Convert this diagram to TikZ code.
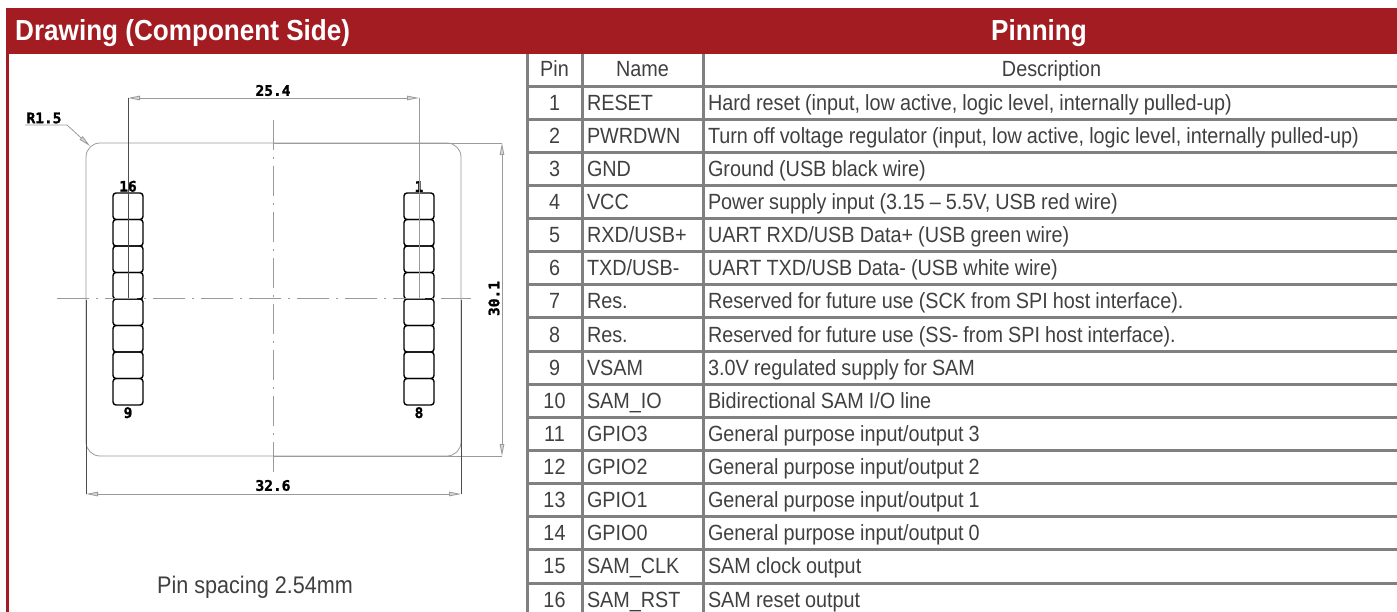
\documentclass[tikz,border=0pt]{standalone}
\usepackage{fontspec}
\setmainfont[FakeStretch=0.90]{Liberation Sans}
\newfontfamily\cadfont[BoldFeatures={FakeBold=1.6}]{DejaVu Sans Mono}
\usepackage{tikz}
\usetikzlibrary{arrows.meta,positioning}
\definecolor{bandred}{HTML}{A31C22}
\definecolor{gridgray}{HTML}{808080}
\definecolor{textgray}{HTML}{404040}
\definecolor{cadgray}{HTML}{9A9A9A}
\tikzset{
    tablecell/.style={rectangle, draw=gridgray, line width=3pt, outer sep=0pt, inner xsep=5pt, inner ysep=0pt,
        minimum height=33.13pt, text height=18pt, text depth=3pt, text=textgray, font=\fontsize{22}{24}\selectfont,
        execute at begin node={\spaceskip=5.1pt\relax}},
    numcell/.style={tablecell, text width=45pt, align=center},
    namecell/.style={tablecell, text width=111pt, align=left},
    desccell/.style={tablecell, text width=687pt, align=left},
    headcell/.style={align=center},
    padbox/.style={rectangle, draw=black, line width=1.4pt, rounded corners=3pt, outer sep=0pt, minimum width=30pt, minimum height=26.5pt},
    cadlabel/.style={font=\cadfont\bfseries\fontsize{14.5}{16}\selectfont, text=black, inner sep=0pt},
    bandtitle/.style={font=\bfseries\fontsize{29}{32}\selectfont, text=white, inner sep=0pt},
    dimline/.style={cadgray, line width=0.8pt, {Triangle[open, fill=cadgray!40, length=12pt, width=4.5pt]}-{Triangle[open, fill=cadgray!40, length=12pt, width=4.5pt]}},
    extline/.style={cadgray, line width=0.8pt},
    centerline/.style={cadgray, line width=0.8pt}
}

\begin{document}
\begin{tikzpicture}[x=1pt, y=-1pt]
    \useasboundingbox (0,0) rectangle (1397,612);

    %Table
    \node (num0)  [numcell]                   at (554.5,69.5) {Pin};
    \node (name0) [namecell, headcell, right=0pt of num0]  {Name};
    \node (desc0) [desccell, headcell, right=0pt of name0] {Description};
    \foreach \n/\pname/\pdesc [remember=\n as \prev (initially 0)] in {
        1/RESET/{Hard reset (input, low active, logic level, internally pulled-up)},
        2/PWRDWN/{Turn off voltage regulator (input, low active, logic level, internally pulled-up)},
        3/GND/{Ground (USB black wire)},
        4/VCC/{Power supply input (3.15 – 5.5V, USB red wire)},
        5/{RXD/USB+}/{UART RXD/USB Data+ (USB green wire)},
        6/{TXD/USB-}/{UART TXD/USB Data- (USB white wire)},
        7/Res./{Reserved for future use (SCK from SPI host interface).},
        8/Res./{Reserved for future use (SS- from SPI host interface).},
        9/VSAM/{3.0V regulated supply for SAM},
        10/SAM\_IO/{Bidirectional SAM I/O line},
        11/GPIO3/{General purpose input/output 3},
        12/GPIO2/{General purpose input/output 2},
        13/GPIO1/{General purpose input/output 1},
        14/GPIO0/{General purpose input/output 0},
        15/SAM\_CLK/{SAM clock output},
        16/SAM\_RST/{SAM reset output}} {
        \node (num\n)  [numcell, below=0pt of num\prev] {\n};
        \node (name\n) [namecell, right=0pt of num\n]   {\pname};
        \node (desc\n) [desccell, right=0pt of name\n]  {\pdesc};
    }

    %Header band
    \fill[bandred] (6,8) rectangle (1397,54);
    \fill[bandred] (6,8) rectangle (9,612);
    \node (drawingtitle) [bandtitle, anchor=west] at (15,33.5)  {Drawing (Component Side)};
    \node (pinningtitle) [bandtitle]              at (1039,33.5) {Pinning};

    %Board
    \node (board) [rectangle, draw=cadgray, line width=0.8pt, rounded corners=14pt, outer sep=0pt, minimum width=375pt, minimum height=313pt] at (273.5,299.5) {};

    %Pads
    \node (pad16) [padbox] at (128,206.25) {};
    \node (pad1)  [padbox] at (419,206.25) {};
    \foreach \n [remember=\n as \prev (initially 1)] in {2,...,8} {
        \node (pad\n) [padbox, below=0pt of pad\prev] {};
    }
    \foreach \n [remember=\n as \prev (initially 16)] in {15,14,...,9} {
        \node (pad\n) [padbox, below=0pt of pad\prev] {};
    }

    % Text labels (outside nodes)
    \node (lab16) [cadlabel, above=1pt of pad16] {16};
    \node (lab1)  [cadlabel, above=1pt of pad1]  {1};
    \node (lab9)  [cadlabel, below=2pt of pad9]  {9};
    \node (lab8)  [cadlabel, below=2pt of pad8]  {8};
    \node (labwidth)  [cadlabel] at (273,90.5)  {25.4};
    \node (labouter)  [cadlabel] at (273,485.5) {32.6};
    \node (labheight) [cadlabel, rotate=90] at (494,298.5) {30.1};
    \node (labradius) [cadlabel] at (44,118) {R1.5};
    \node (spacing) [text=textgray, font=\fontsize{24}{28}\selectfont, inner sep=0pt] at (255,587) {Pin spacing 2.54mm};

    \coordinate (dimleft)   at (128,98);
    \coordinate (dimright)  at (419,98);
    \coordinate (dimtop)    at (502,143);
    \coordinate (dimbottom) at (502,456);
    \coordinate (dimwest)   at (86,494);
    \coordinate (dimeast)   at (461,494);
    \coordinate (centertop)    at (273,120);
    \coordinate (centerbottom) at (273,472);
    \coordinate (centerwest)   at (57,298);
    \coordinate (centereast)   at (471,298);
    \coordinate (leaderstart)  at (25,125);
    \coordinate (leaderbend)   at (67,125);
    \coordinate (leaderend)    at (90,146);

    %Lines
    \draw[dimline] (dimleft) -- (dimright);
    \draw[dimline] (dimtop)  -- (dimbottom);
    \draw[dimline] (dimwest) -- (dimeast);
    \draw[extline, black!70] (dimleft)  -- (pad13.south);
    \draw[extline]           (dimright) -- (pad4.south);
    \draw[extline] (board.north) -- (dimtop);
    \draw[extline] (board.south) -- (dimbottom);
    \draw[extline, black!70] (board.west) -- (dimwest);
    \draw[extline, black!70] (board.east) -- (dimeast);
    \draw[centerline, dash pattern=on 30pt off 7pt on 2pt off 7pt] (centertop)  -- (centerbottom);
    \draw[centerline, dash pattern=on 32pt off 7pt on 2pt off 7pt] (centerwest) -- (centereast);
    \draw[extline, -{Triangle[open, fill=cadgray!40, length=12pt, width=4.5pt]}] (leaderstart) -- (leaderbend) -- (leaderend);
\end{tikzpicture}
\end{document}
